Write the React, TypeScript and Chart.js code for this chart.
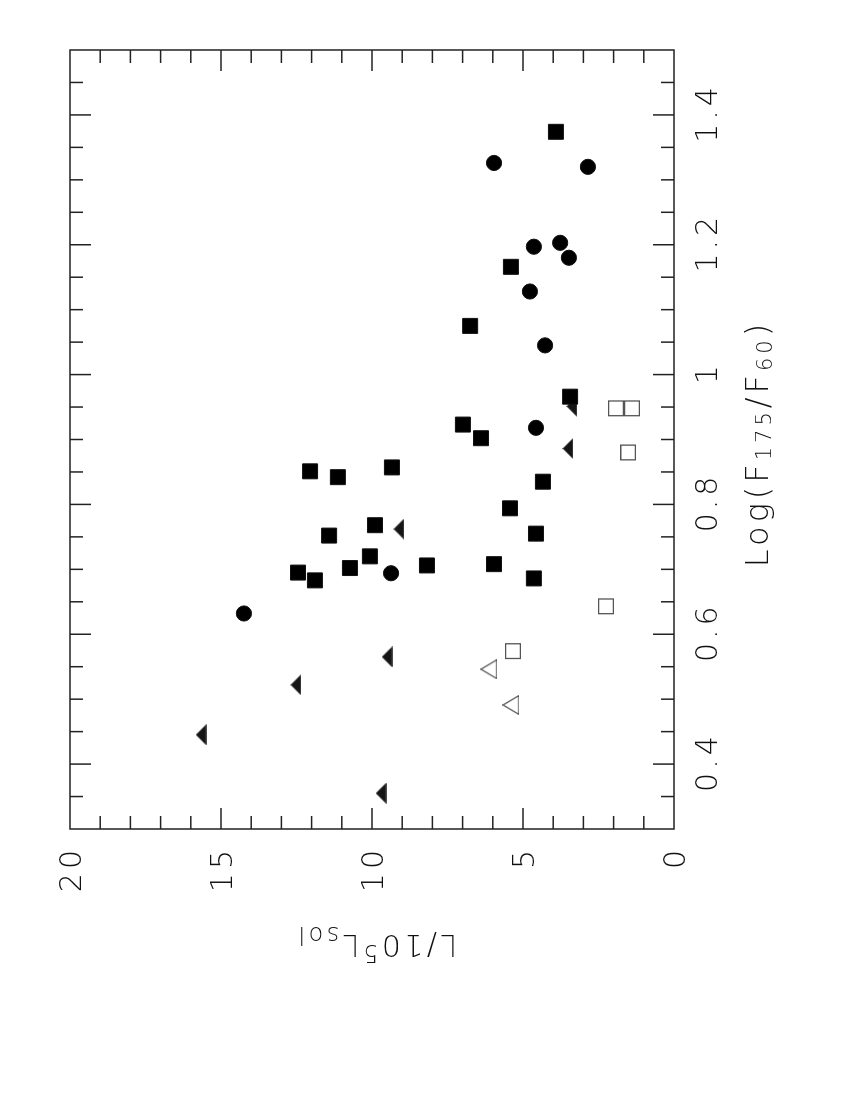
import React, { useEffect, useRef } from "react";
import { Chart, registerables } from "chart.js";

Chart.register(...registerables);

// ---- Data (x = Log(F175/F60), y = L / 1e5 Lsol) ----
const filledSquareLogF = [0.851, 0.842, 0.857, 0.768, 0.752, 0.72, 0.702, 0.695, 0.683, 0.706, 1.374, 1.166, 1.075, 0.966, 0.923, 0.902, 0.835, 0.794, 0.755, 0.708, 0.686];
const filledSquareL = [12.05, 11.13, 9.34, 9.9, 11.42, 10.07, 10.73, 12.45, 11.89, 8.18, 3.91, 5.4, 6.75, 3.44, 6.99, 6.39, 4.34, 5.43, 4.57, 5.96, 4.64];

const filledCircleLogF = [0.694, 0.632, 1.326, 1.32, 1.203, 1.197, 1.18, 1.128, 1.045, 0.918];
const filledCircleL = [9.37, 14.24, 5.96, 2.85, 3.77, 4.64, 3.48, 4.77, 4.27, 4.57];

const filledTriangleLogF = [0.762, 0.565, 0.522, 0.445, 0.355, 0.951, 0.886];
const filledTriangleL = [9.11, 9.5, 12.52, 15.66, 9.7, 3.38, 3.51];

const openSquareLogF = [0.948, 0.948, 0.88, 0.643, 0.574];
const openSquareL = [1.92, 1.39, 1.52, 2.25, 5.33];

const openTriangleLogF = [0.546, 0.491];
const openTriangleL = [6.13, 5.4];

// ---- Axes ----
const logMin = 0.3;
const logMax = 1.5;
const lumMin = 0;
const lumMax = 20;
const logTickValues = [0.4, 0.6, 0.8, 1.0, 1.2, 1.4];
const logTickLabels = ["0.4", "0.6", "0.8", "1", "1.2", "1.4"];
const lumTickValues = [0, 5, 10, 15, 20];
const lumTickLabels = ["0", "5", "10", "15", "20"];

const FONT = "'DejaVu Sans', 'Liberation Sans', sans-serif";

function zip(xs: number[], ys: number[]) {
  return xs.map((x, i) => ({ x, y: ys[i] }));
}

function makeTriangle(w: number, h: number, filled: boolean) {
  const c = document.createElement("canvas");
  c.width = w;
  c.height = h;
  const g = c.getContext("2d")!;
  g.beginPath();
  g.moveTo(w / 2, 0.6);
  g.lineTo(w - 0.6, h - 0.6);
  g.lineTo(0.6, h - 0.6);
  g.closePath();
  if (filled) {
    g.fillStyle = "#151515";
    g.fill();
    g.strokeStyle = "#444";
    g.lineWidth = 1;
    g.stroke();
  } else {
    g.strokeStyle = "#555";
    g.lineWidth = 1.2;
    g.stroke();
  }
  return c;
}

type Piece = { t: string; size: number; dy: number };

function drawPieces(ctx: CanvasRenderingContext2D, pieces: Piece[], startX: number, baseY: number, spacing: number) {
  let x = startX;
  for (const p of pieces) {
    ctx.font = `200 ${p.size}px ${FONT}`;
    (ctx as any).letterSpacing = `${spacing}px`;
    ctx.fillText(p.t, x, baseY + p.dy);
    x += ctx.measureText(p.t).width;
  }
}

function measurePieces(ctx: CanvasRenderingContext2D, pieces: Piece[], spacing: number) {
  let w = 0;
  for (const p of pieces) {
    ctx.font = `200 ${p.size}px ${FONT}`;
    (ctx as any).letterSpacing = `${spacing}px`;
    w += ctx.measureText(p.t).width;
  }
  return w;
}

const framePlugin = {
  id: "pgframe",
  afterDraw(chart: any) {
    const { ctx, chartArea: a, scales } = chart;
    const xs = scales.x;
    const ys = scales.y;
    ctx.save();
    ctx.strokeStyle = "#222";
    ctx.lineWidth = 1.5;
    const line = (x1: number, y1: number, x2: number, y2: number) => {
      ctx.beginPath();
      ctx.moveTo(x1, y1);
      ctx.lineTo(x2, y2);
      ctx.stroke();
    };
    ctx.strokeRect(a.left, a.top, a.right - a.left, a.bottom - a.top);

    // Log axis ticks: every 0.05, long at labelled values
    for (let i = 7; i <= 29; i++) {
      const v = i * 0.05;
      const len = i % 4 === 0 ? 21 : 13;
      const px = xs.getPixelForValue(v);
      line(px, a.bottom, px, a.bottom - len);
      line(px, a.top, px, a.top + len);
    }
    // Luminosity axis ticks: every 1, long every 5
    for (let i = 1; i <= 19; i++) {
      const len = i % 5 === 0 ? 21 : 13;
      const py = ys.getPixelForValue(i);
      line(a.left, py, a.left + len, py);
      line(a.right, py, a.right - len, py);
    }

    ctx.fillStyle = "#111";
    ctx.textAlign = "left";
    ctx.textBaseline = "alphabetic";
    ctx.font = `200 30px ${FONT}`;
    (ctx as any).letterSpacing = "4px";
    logTickValues.forEach((v, i) => {
      const px = xs.getPixelForValue(v);
      const w = ctx.measureText(logTickLabels[i]).width - 4;
      ctx.fillText(logTickLabels[i], px - w / 2, a.bottom + 43);
    });
    lumTickValues.forEach((v, i) => {
      const py = ys.getPixelForValue(v);
      const w = ctx.measureText(lumTickLabels[i]).width - 4;
      ctx.fillText(lumTickLabels[i], a.left - 21 - w, py + 11);
    });

    // X title: Log(F175/F60)
    const xPieces: Piece[] = [
      { t: "Log(F", size: 32, dy: 0 },
      { t: "175", size: 21, dy: 3 },
      { t: "/F", size: 32, dy: 0 },
      { t: "60", size: 21, dy: 4 },
      { t: ")", size: 32, dy: 0 },
    ];
    const xw = measurePieces(ctx, xPieces, 4);
    const xc = (a.left + a.right) / 2 - 4;
    drawPieces(ctx, xPieces, xc - xw / 2, a.bottom + 94, 4);

    // Y title: L/10^5 L_sol
    const yPieces: Piece[] = [
      { t: "L/10", size: 30, dy: 0 },
      { t: "5", size: 24, dy: -10 },
      { t: "L", size: 30, dy: 0 },
      { t: "sol", size: 24, dy: 8 },
    ];
    const yw = measurePieces(ctx, yPieces, 3.5);
    ctx.save();
    ctx.translate(a.left - 106, (a.top + a.bottom) / 2 + 4);
    ctx.rotate(-Math.PI / 2);
    drawPieces(ctx, yPieces, -yw / 2, 0, 3.5);
    ctx.restore();

    ctx.restore();
  },
};

export default function App() {
  const ref = useRef<HTMLCanvasElement | null>(null);

  useEffect(() => {
    if (!ref.current) return;
    const triFilled = makeTriangle(21, 11, true);
    const triOpen = makeTriangle(20, 17, false);
    const chart = new Chart(ref.current, {
      type: "scatter",
      data: {
        datasets: [
          {
            label: "filled squares",
            data: zip(filledSquareLogF, filledSquareL),
            pointStyle: "rect",
            pointRadius: 10.6,
            backgroundColor: "#000",
            borderColor: "#111",
            borderWidth: 1,
          },
          {
            label: "filled circles",
            data: zip(filledCircleLogF, filledCircleL),
            pointStyle: "circle",
            pointRadius: 7.6,
            backgroundColor: "#000",
            borderColor: "#111",
            borderWidth: 1,
          },
          {
            label: "filled triangles",
            data: zip(filledTriangleLogF, filledTriangleL),
            pointStyle: triFilled as any,
            pointRadius: 10,
            backgroundColor: "#000",
            borderColor: "#000",
          },
          {
            label: "open squares",
            data: zip(openSquareLogF, openSquareL),
            pointStyle: "rect",
            pointRadius: 10.4,
            backgroundColor: "rgba(255,255,255,0)",
            borderColor: "#555",
            borderWidth: 1.3,
          },
          {
            label: "open triangles",
            data: zip(openTriangleLogF, openTriangleL),
            pointStyle: triOpen as any,
            pointRadius: 10,
            backgroundColor: "rgba(255,255,255,0)",
            borderColor: "#555",
          },
        ],
      },
      options: {
        responsive: false,
        animation: false,
        devicePixelRatio: 1,
        layout: { padding: { left: 0, right: 50, top: 70, bottom: 0 } },
        plugins: {
          legend: { display: false },
          tooltip: { enabled: false },
          title: { display: false },
        },
        scales: {
          x: {
            type: "linear",
            min: logMin,
            max: logMax,
            grid: { display: false },
            border: { display: false },
            ticks: { display: false },
            afterFit: (s: any) => {
              s.height = 176;
            },
          },
          y: {
            type: "linear",
            min: lumMin,
            max: lumMax,
            grid: { display: false },
            border: { display: false },
            ticks: { display: false },
            afterFit: (s: any) => {
              s.width = 271;
            },
          },
        },
      },
      plugins: [framePlugin],
    });
    return () => chart.destroy();
  }, []);

  return (
    <div
      style={{
        position: "absolute",
        left: 0,
        top: 0,
        width: 850,
        height: 1100,
        overflow: "hidden",
        background: "#fff",
      }}
    >
      <canvas
        ref={ref}
        width={1100}
        height={850}
        style={{
          position: "absolute",
          left: 0,
          top: 0,
          width: 1100,
          height: 850,
          transformOrigin: "0 0",
          transform: "translate(0px, 1100px) rotate(-90deg)",
        }}
      />
    </div>
  );
}
